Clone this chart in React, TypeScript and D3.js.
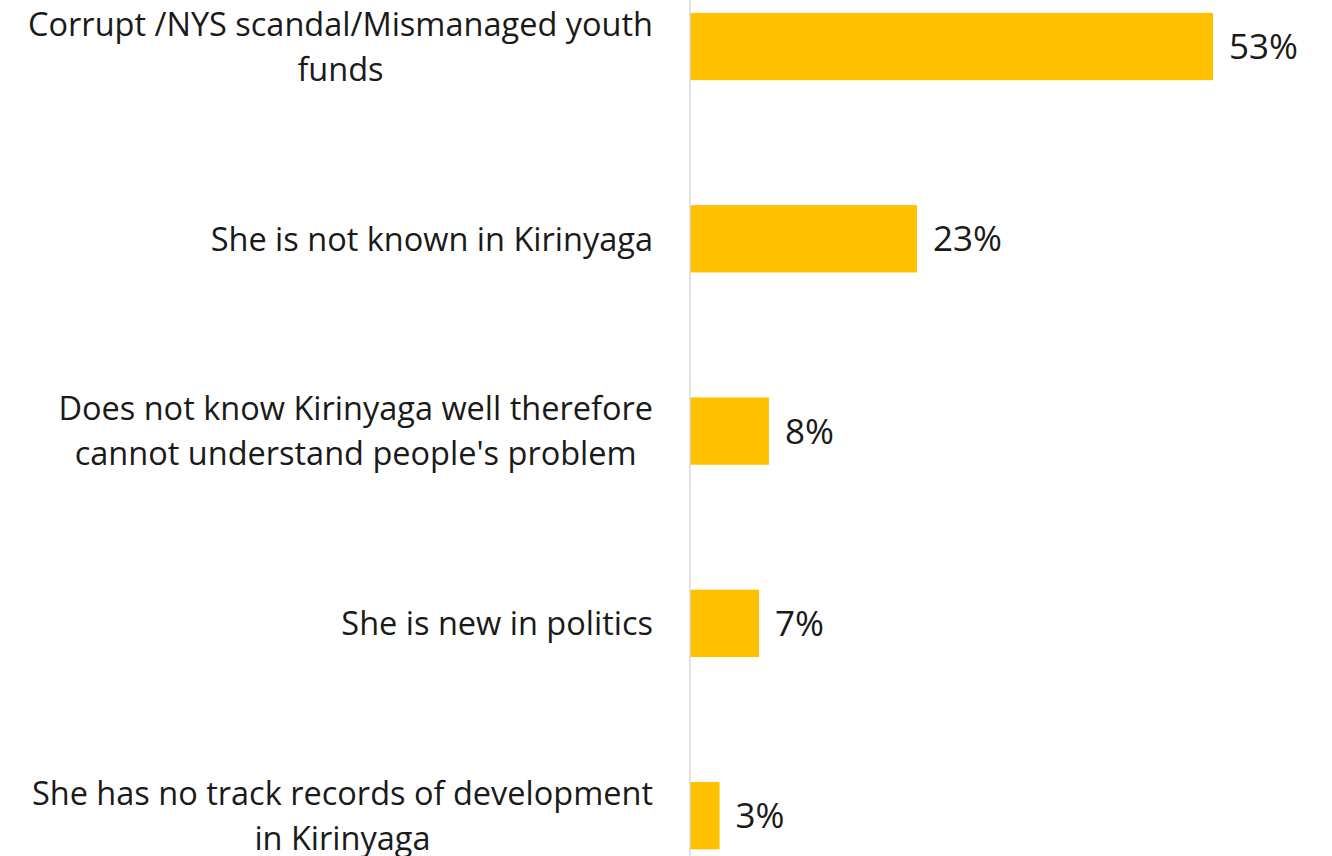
import React, { useEffect, useRef } from "react";
import * as d3 from "d3";

const categories: string[][] = [
  ["Corrupt /NYS scandal/Mismanaged youth", "funds"],
  ["She is not known in Kirinyaga"],
  ["Does not know Kirinyaga well therefore", "cannot understand people's problem"],
  ["She is new in politics"],
  ["She has no track records of development", "in Kirinyaga"],
];
const values: number[] = [53, 23, 8, 7, 3];
const valueLabels: string[] = ["53%", "23%", "8%", "7%", "3%"];

const W = 1332;
const H = 856;
const FONT = "'Open Sans', sans-serif";

export default function App() {
  const ref = useRef<SVGSVGElement | null>(null);
  useEffect(() => {
    const svg = d3.select(ref.current);
    svg.selectAll("*").remove();
    const x0 = 690;
    const x = d3.scaleLinear().domain([0, 53]).range([x0, 1213]);
    const ids = values.map((_, i) => String(i));
    const y = d3
      .scaleBand<string>()
      .domain(ids)
      .range([-49.65, 911.85])
      .paddingInner(0.65)
      .paddingOuter(0.325);

    svg
      .append("g")
      .selectAll("rect")
      .data(values)
      .join("rect")
      .attr("x", x0)
      .attr("y", (_, i) => y(String(i))!)
      .attr("width", (d) => x(d) - x0)
      .attr("height", y.bandwidth())
      .attr("fill", "#FFC000");

    svg
      .append("line")
      .attr("x1", x0)
      .attr("x2", x0)
      .attr("y1", 0)
      .attr("y2", H)
      .attr("stroke", "#D9D9D9")
      .attr("stroke-width", 1.5);

    svg
      .append("g")
      .selectAll("text")
      .data(values)
      .join("text")
      .attr("x", (d) => x(d) + 16)
      .attr("y", (_, i) => y(String(i))! + y.bandwidth() / 2)
      .attr("dy", "0.36em")
      .attr("font-family", FONT)
      .attr("font-size", 35)
      .attr("fill", "#1a1a1a")
      .text((_, i) => valueLabels[i]);

    const right = 653;
    const lineH = 45;
    categories.forEach((lines, i) => {
      const cy = y(String(i))! + y.bandwidth() / 2;
      const g = svg.append("g");
      const texts = lines.map((ln, j) =>
        g
          .append("text")
          .attr("y", cy + (j - (lines.length - 1) / 2) * lineH)
          .attr("dy", "0.36em")
          .attr("font-family", FONT)
          .attr("font-size", 32.5)
          .attr("fill", "#1a1a1a")
          .attr("text-anchor", "middle")
          .text(ln)
      );
      const widths = texts.map((t) => (t.node() as SVGTextElement).getComputedTextLength());
      const maxW = d3.max(widths) || 0;
      texts.forEach((t) => t.attr("x", right - maxW / 2));
    });
  }, []);
  return (
    <svg
      ref={ref}
      width={W}
      height={H}
      style={{ position: "absolute", left: 0, top: 0, background: "#fff" }}
    />
  );
}
